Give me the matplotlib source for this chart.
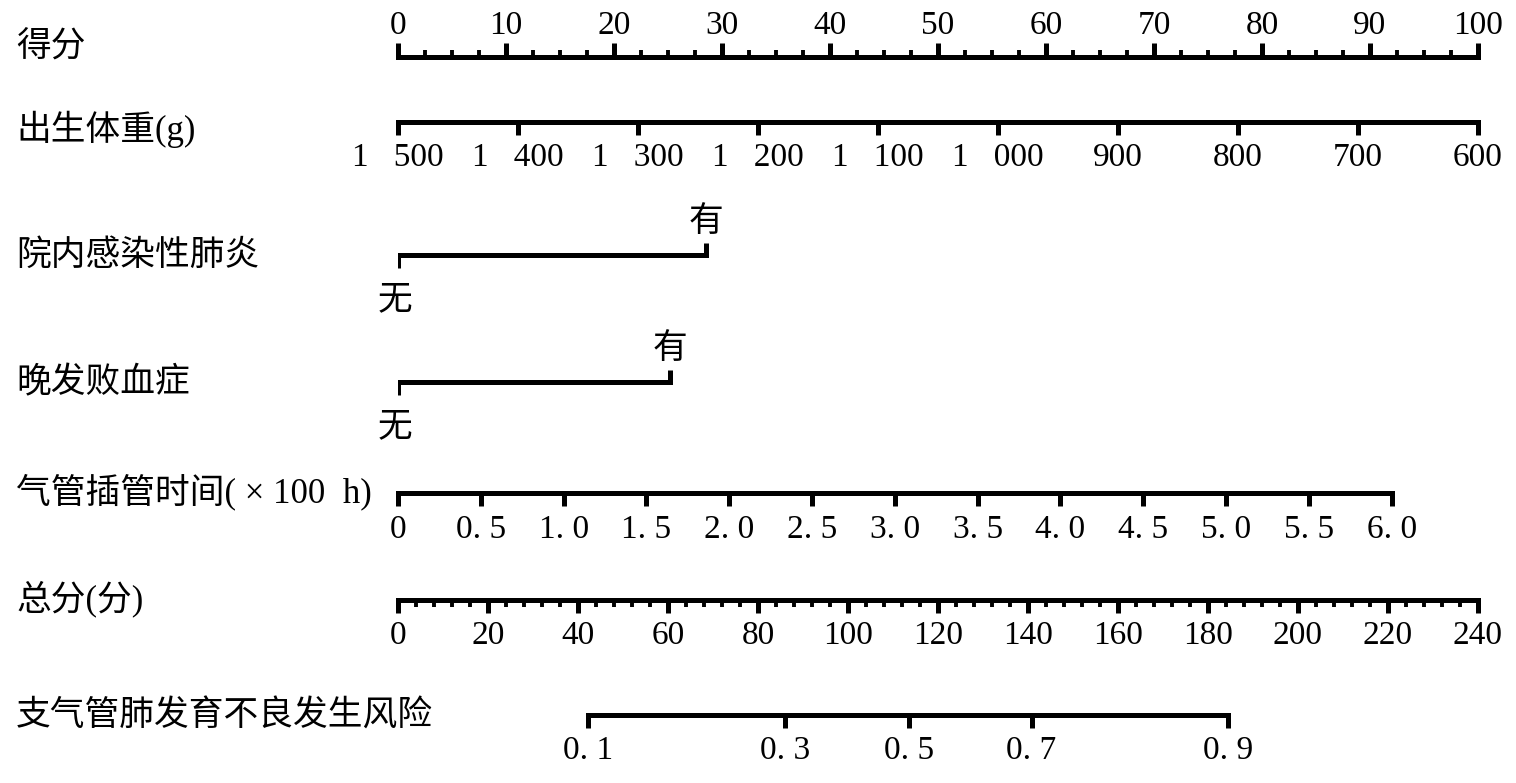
import matplotlib
matplotlib.use("Agg")
import matplotlib.pyplot as plt

# ---------------- data ----------------
points_ticks = list(range(0, 101, 10))
points_minor = [x * 2.5 for x in range(41)]

weight_ticks = [1500, 1400, 1300, 1200, 1100, 1000, 900, 800, 700, 600]

pneumonia_yes_points = 28.5   # 院内感染性肺炎 "有"
sepsis_yes_points = 25.2      # 晚发败血症 "有"

intub_ticks = [0, 0.5, 1.0, 1.5, 2.0, 2.5, 3.0, 3.5, 4.0, 4.5, 5.0, 5.5, 6.0]
intub_max_points = 92.0       # points reached at 6.0

total_ticks = list(range(0, 241, 20))
total_minor = list(range(0, 241, 4))

risk_labels = [0.1, 0.3, 0.5, 0.7, 0.9]
risk_total_points = [42.2, 86.0, 113.5, 140.8, 184.4]

row_names = ["得分", "出生体重(g)", "院内感染性肺炎", "晚发败血症",
             "气管插管时间(×100 h)", "总分(分)", "支气管肺发育不良发生风险"]

# ---------------- layout ----------------
W, H = 1516, 783
FAM = ["Liberation Serif", "Noto Sans CJK SC"]
CJK = ["Noto Sans CJK SC", "DejaVu Sans"]
plt.rcParams["font.family"] = FAM
NUM_FS = 24
LAB_FS = 25
LW = 3.6

fig = plt.figure(figsize=(W / 100, H / 100), dpi=100)

AX_L, AX_W = 398 / W, 1080 / W


def line_axes(y_px, half=0.5):
    ax = fig.add_axes([AX_L, 1 - (y_px + half) / H, AX_W, 2 * half / H])
    ax.set_facecolor("none")
    for s in ax.spines.values():
        s.set_visible(False)
    ax.set_yticks([])
    return ax


def style_spine(ax, side, lo, hi):
    sp = ax.spines[side]
    sp.set_visible(True)
    sp.set_linewidth(LW)
    sp.set_capstyle("projecting")
    sp.set_bounds(lo, hi)


# row y positions (pixels from top)
rows_y = [57, 121, 255, 382, 492, 599, 714]
label_y = [47, 129, 256, 384, 492, 599, 717]


def display_name(s):
    return s.replace("(×100 h)", "( × 100  h)")


for name, yy in zip(row_names, label_y):
    fig.text(16 / W, 1 - yy / H, display_name(name), fontsize=LAB_FS, family=FAM,
             ha="left", va="center")

# 1) points axis (ticks up, labels above)
ax = line_axes(rows_y[0])
ax.set_xlim(0, 100)
ax.xaxis.tick_top()
style_spine(ax, "top", 0, 100)
ax.set_xticks(points_ticks)
ax.set_xticks(points_minor, minor=True)
ax.set_xticklabels([str(v) for v in points_ticks], fontsize=NUM_FS)
ax.tick_params(axis="x", which="major", direction="out", length=10, width=LW, pad=1)
ax.tick_params(axis="x", which="minor", direction="out", length=5, width=2.8)

# 2) birth weight
ax = line_axes(rows_y[1])
ax.set_xlim(weight_ticks[0], weight_ticks[-1])
style_spine(ax, "bottom", weight_ticks[0], weight_ticks[-1])
ax.set_xticks(weight_ticks)


def wfmt(v):
    return f"{v // 1000}   {v % 1000:03d}" if v >= 1000 else str(v)


ax.set_xticklabels([wfmt(v) for v in weight_ticks], fontsize=NUM_FS)
ax.tick_params(axis="x", direction="out", length=9, width=LW, pad=6)


# 3/4) categorical rows
def cat_row(y_px, yes_pts):
    ax = fig.add_axes([AX_L, 1 - (y_px + 14) / H, AX_W, 28 / H])
    ax.set_facecolor("none")
    ax.axis("off")
    ax.set_xlim(0, 100)
    ax.set_ylim(-14, 14)
    ax.plot([0, 0, yes_pts, yes_pts], [-13, 0, 0, 12], color="black",
            lw=LW, solid_joinstyle="miter", solid_capstyle="butt")
    ax.annotate("有", (yes_pts, 12), xytext=(0, 3), textcoords="offset points",
                ha="center", va="bottom", fontsize=LAB_FS, family=CJK,
                annotation_clip=False)
    ax.annotate("无", (0, -13), xytext=(-2, -10), textcoords="offset points",
                ha="center", va="top", fontsize=LAB_FS, family=CJK,
                annotation_clip=False)


cat_row(rows_y[2], pneumonia_yes_points)
cat_row(rows_y[3], sepsis_yes_points)

# 5) intubation time
ax = line_axes(rows_y[4])
ax.set_xlim(0, intub_ticks[-1] * 100 / intub_max_points)
style_spine(ax, "bottom", intub_ticks[0], intub_ticks[-1])
ax.set_xticks(intub_ticks)
ax.set_xticklabels(["0" if v == 0 else f"{v:.1f}".replace(".", ". ") for v in intub_ticks],
                   fontsize=NUM_FS)
ax.tick_params(axis="x", direction="out", length=9, width=LW, pad=7)

# 6) total points
ax = line_axes(rows_y[5])
ax.set_xlim(0, 240)
style_spine(ax, "bottom", 0, 240)
ax.set_xticks(total_ticks)
ax.set_xticks(total_minor, minor=True)
ax.set_xticklabels([str(v) for v in total_ticks], fontsize=NUM_FS)
ax.tick_params(axis="x", which="major", direction="out", length=9, width=LW, pad=6)
ax.tick_params(axis="x", which="minor", direction="out", length=5, width=2.8)

# 7) risk
ax = line_axes(rows_y[6])
ax.set_xlim(0, 240)
style_spine(ax, "bottom", risk_total_points[0], risk_total_points[-1])
ax.set_xticks(risk_total_points)
ax.set_xticklabels([f"{v:.1f}".replace(".", ". ") for v in risk_labels], fontsize=NUM_FS)
ax.tick_params(axis="x", direction="out", length=9, width=LW, pad=6)

fig.savefig("out.png", dpi=100)
